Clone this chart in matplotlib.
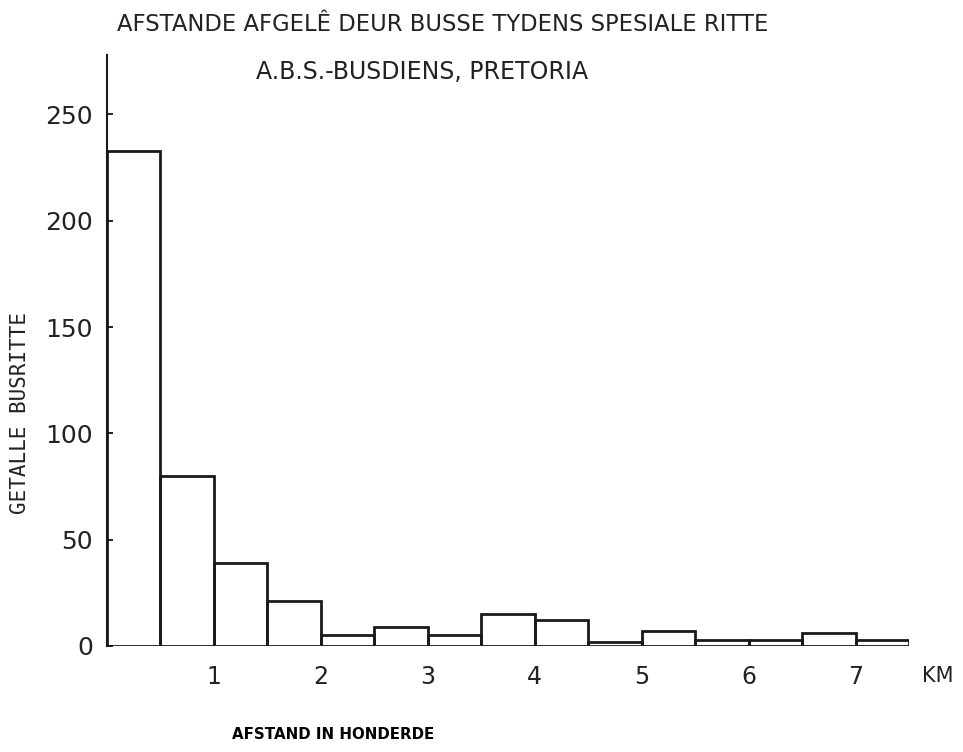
import numpy as np
import matplotlib.pyplot as plt

# histogram of distances (units of 100 km), bins 0.5 wide
bin_edges = [0.0, 0.5, 1.0, 1.5, 2.0, 2.5, 3.0, 3.5, 4.0, 4.5, 5.0, 5.5, 6.0, 6.5, 7.0]
counts = [233, 80, 39, 21, 5, 9, 5, 15, 12, 2, 7, 3, 3, 6, 3]
xticks = [1, 2, 3, 4, 5, 6, 7]
yticks = [0, 50, 100, 150, 200, 250]

sans = 'DejaVu Sans'

fig = plt.figure(figsize=(9.63, 7.52), dpi=100)
ax = fig.add_axes([0.111, 0.141, 0.833, 0.786])

ax.bar(bin_edges, counts, width=0.5, align='edge', fill=False,
       edgecolor='#1a1a1a', linewidth=2)

ax.set_xlim(0, 7.5)
ax.set_ylim(0, 278)
ax.set_xticks(xticks)
ax.set_yticks(yticks)
ax.set_xticklabels([str(t) for t in xticks], family=sans, fontsize=17,
                   color='#222222')
ax.set_yticklabels([str(t) for t in yticks], family=sans, fontsize=18,
                   color='#222222')
ax.tick_params(axis='x', length=0, pad=14)
ax.tick_params(axis='y', direction='in', length=4, width=1.2, pad=10)

for s in ['top', 'right', 'bottom']:
    ax.spines[s].set_visible(False)
ax.spines['left'].set_linewidth(1.5)
ax.spines['left'].set_color('#1a1a1a')

ax.text(7.62, -0.05, 'KM', transform=ax.get_xaxis_transform(),
        family=sans, fontsize=15, ha='left', va='center', clip_on=False,
        color='#222222')

fig.text(0.46, 0.967, 'AFSTANDE AFGELÊ DEUR BUSSE TYDENS SPESIALE RITTE',
         family=sans, fontsize=16.3, ha='center', va='center', color='#222222')
fig.text(0.438, 0.904, 'A.B.S.-BUSDIENS, PRETORIA',
         family=sans, fontsize=17, ha='center', va='center', color='#222222')

fig.text(0.021, 0.451, 'GETALLE BUSRITTE', rotation=90,
         family='DejaVu Sans Mono', fontsize=15, ha='center', va='center',
         color='#222222')
fig.text(0.346, 0.023, 'AFSTAND IN HONDERDE', family=sans,
         fontsize=10.8, fontweight='bold', ha='center', va='center')

fig.savefig('out.png', dpi=100)
